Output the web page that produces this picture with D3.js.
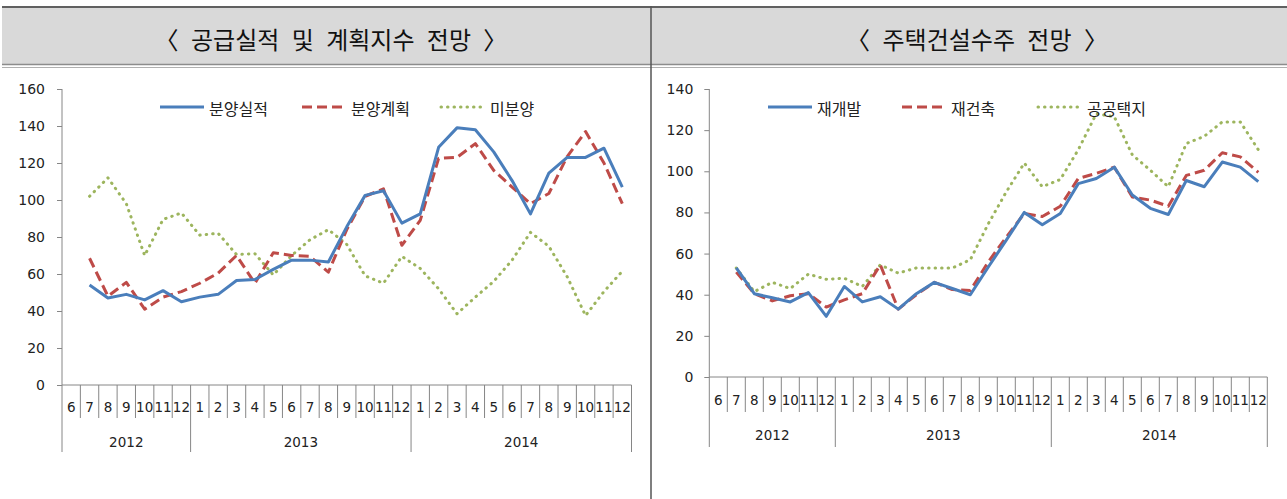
<!DOCTYPE html>
<html>
<head>
<meta charset="utf-8">
<script src="https://cdn.jsdelivr.net/npm/d3@7"></script>
<style>
  html, body { margin: 0; padding: 0; background: #ffffff; }
  svg { display: block; }
</style>
</head>
<body>
<svg id="chart" width="1287" height="499"></svg>
<script>
// ---------- DATA ----------
const monthLabels = ["6","7","8","9","10","11","12",
  "1","2","3","4","5","6","7","8","9","10","11","12",
  "1","2","3","4","5","6","7","8","9","10","11","12"];
const yearLabels = ["2012", "2013", "2014"];
const yearSpans = [7, 12, 12];

const leftTitle = "〈 공급실적 및 계획지수 전망 〉";
const rightTitle = "〈 주택건설수주 전망 〉";

const leftSeriesNames = ["분양실적", "분양계획", "미분양"];
const supplyActual = [null, 54, 47, 49, 46, 51, 45, 47.5, 49, 56.5, 57, 62.5, 67.5, 67.5, 66.5, 85.5, 102.5, 105, 87.5, 92.5, 128.5, 139, 138, 126, 110.5, 92.5, 114.5, 123, 123, 128, 107];
const supplyPlan   = [null, 68.5, 48, 55.5, 41, 47.5, 50.5, 55, 60.5, 70, 55, 71.5, 70, 69.5, 61, 84, 102, 106, 75.5, 89, 122.5, 123, 130.5, 116, 107, 98, 103.5, 123.5, 137, 120, 98];
const unsold       = [null, 102, 112, 98, 70, 89.5, 93, 81, 82, 70.5, 71, 59.5, 70, 78.5, 84, 76, 59, 55, 69.5, 63, 52, 38.5, 47.5, 56, 67.5, 82.5, 75, 58.5, 37.5, 50.5, 61.5];
const leftTicks = [0, 20, 40, 60, 80, 100, 120, 140, 160];

const rightSeriesNames = ["재개발", "재건축", "공공택지"];
const redevelopment  = [null, 53, 40.5, 38.5, 36.5, 41, 29.5, 44, 36.5, 39, 33, 40.5, 46, 43, 40, 53.5, 66.5, 80, 74, 79.5, 94, 96.5, 102, 88.5, 82, 79, 95.5, 92.5, 104.5, 102, 95];
const reconstruction = [null, 51, 40.5, 37, 39.5, 40.5, 34, 37.5, 40.5, 54.5, 33, 40, 46, 42.5, 42, 56, 68, 79.5, 78, 83, 96.5, 99, 102, 87.5, 86, 83, 98, 100.5, 109, 107, 99.5];
const publicLand     = [null, 53, 41.5, 46, 43, 50, 47.5, 48, 44, 54.5, 50.5, 53, 53, 53, 57, 74.5, 90, 104, 92.5, 96, 110.5, 128, 126.5, 108, 100.5, 92.5, 113.5, 117, 124, 124, 110.5];
const rightTicks = [0, 20, 40, 60, 80, 100, 120, 140];

// ---------- STYLES ----------
const KFONT = "'Noto Sans CJK KR', 'Noto Sans', sans-serif";
const NFONT = "'DejaVu Sans', sans-serif";
const NSIZE = "13.5px";
const YSIZE = "14px";
const AXIS = "#868686";
const styles = [
  { color: "#4a7ebb", dash: null, cap: "butt" },
  { color: "#be4b48", dash: "10,5", cap: "butt" },
  { color: "#9db55e", dash: "0.5,6", cap: "round" }
];

const svg = d3.select("#chart");

// ---------- HEADER ----------
svg.append("rect").attr("x", 2).attr("y", 8).attr("width", 1285).attr("height", 56).attr("fill", "#d9d9d9");
svg.append("line").attr("x1", 2).attr("x2", 1287).attr("y1", 7).attr("y2", 7).attr("stroke", "#606060").attr("stroke-width", 2);
svg.append("line").attr("x1", 2).attr("x2", 1287).attr("y1", 64.5).attr("y2", 64.5).attr("stroke", "#8c8c8c").attr("stroke-width", 1.5);
svg.append("line").attr("x1", 2).attr("x2", 1287).attr("y1", 67.5).attr("y2", 67.5).attr("stroke", "#b0b0b0").attr("stroke-width", 1);
svg.append("line").attr("x1", 651).attr("x2", 651).attr("y1", 6).attr("y2", 499).attr("stroke", "#555").attr("stroke-width", 1.5);

svg.append("text").attr("x", 331).attr("y", 38).attr("text-anchor", "middle").attr("dominant-baseline", "central")
  .style("font-family", KFONT).style("font-size", "24px").style("word-spacing", "7px").attr("fill", "#111").text(leftTitle);
svg.append("text").attr("x", 977).attr("y", 38).attr("text-anchor", "middle").attr("dominant-baseline", "central")
  .style("font-family", KFONT).style("font-size", "24px").style("word-spacing", "7px").attr("fill", "#111").text(rightTitle);

// ---------- CHART BUILDER ----------
function buildChart(cfg) {
  const g = svg.append("g");
  const x = d3.scaleBand().domain(d3.range(monthLabels.length)).range([cfg.x0, cfg.x1]).paddingInner(0).paddingOuter(0);
  const y = d3.scaleLinear().domain([0, cfg.yMax]).range([cfg.yBottom, cfg.yTop]);
  const bw = x.bandwidth();

  // y axis
  const yAxis = d3.axisLeft(y).tickValues(cfg.ticks).tickSize(5).tickPadding(cfg.tickPad).tickSizeOuter(0);
  const ya = g.append("g").attr("transform", `translate(${cfg.x0},0)`).call(yAxis);
  ya.select(".domain").remove();
  ya.selectAll(".tick line").attr("stroke", AXIS);
  ya.selectAll(".tick text").style("font-family", NFONT).style("font-size", YSIZE).attr("fill", "#222");
  g.append("line").attr("x1", cfg.x0).attr("x2", cfg.x0).attr("y1", cfg.yTop).attr("y2", cfg.yearLineEnd).attr("stroke", AXIS);

  // x axis baseline
  g.append("line").attr("x1", cfg.x0).attr("x2", cfg.x1).attr("y1", y(0)).attr("y2", y(0)).attr("stroke", AXIS);

  // month boundaries
  const boundaries = d3.range(1, monthLabels.length + 1);
  let cum = 0;
  const yearBounds = new Set(yearSpans.map(s => (cum += s)));
  g.selectAll(".mtick").data(boundaries).enter().append("line")
    .attr("x1", i => x(i - 1) + bw).attr("x2", i => x(i - 1) + bw)
    .attr("y1", y(0))
    .attr("y2", i => yearBounds.has(i) ? cfg.yearLineEnd : cfg.monthTickEnd)
    .attr("stroke", AXIS);

  g.selectAll(".mlab").data(monthLabels).enter().append("text")
    .attr("x", (d, i) => x(i) + bw / 2).attr("y", cfg.monthLabelY)
    .attr("text-anchor", "middle").attr("dominant-baseline", "central")
    .style("font-family", NFONT).style("font-size", NSIZE).attr("fill", "#222").text(d => d);

  let start = 0;
  yearLabels.forEach((lab, k) => {
    const a = x(start), b = x(start + yearSpans[k] - 1) + bw;
    g.append("text").attr("x", (a + b) / 2).attr("y", cfg.yearLabelY)
      .attr("text-anchor", "middle").attr("dominant-baseline", "central")
      .style("font-family", NFONT).style("font-size", NSIZE).attr("fill", "#222").text(lab);
    start += yearSpans[k];
  });

  // lines (dotted first, then dashed, then solid on top)
  const line = d3.line().defined(d => d != null).x((d, i) => x(i) + bw / 2).y(d => y(d));
  [2, 1, 0].forEach(k => {
    const st = styles[k];
    g.append("path").datum(cfg.series[k]).attr("d", line)
      .attr("fill", "none").attr("stroke", st.color).attr("stroke-width", 3)
      .attr("stroke-linejoin", "round").attr("stroke-linecap", st.cap)
      .attr("stroke-dasharray", st.dash);
  });

  // legend
  cfg.legend.forEach((L, k) => {
    const st = styles[k];
    g.append("line").attr("x1", L.x).attr("x2", L.x + 44).attr("y1", cfg.legendY).attr("y2", cfg.legendY)
      .attr("stroke", st.color).attr("stroke-width", 3).attr("stroke-linecap", st.cap)
      .attr("stroke-dasharray", st.dash);
    g.append("text").attr("x", L.x + 49).attr("y", cfg.legendY + 1).attr("dominant-baseline", "central")
      .style("font-family", KFONT).style("font-size", "16px").attr("fill", "#222").text(cfg.names[k]);
  });
}

buildChart({
  x0: 62, x1: 631.5, yTop: 89, yBottom: 385, yMax: 160, ticks: leftTicks, tickPad: 12,
  monthTickEnd: 418, yearLineEnd: 452, monthLabelY: 407, yearLabelY: 442,
  series: [supplyActual, supplyPlan, unsold], names: leftSeriesNames,
  legendY: 107, legend: [{ x: 160 }, { x: 302 }, { x: 441 }]
});

buildChart({
  x0: 709.3, x1: 1267.3, yTop: 89, yBottom: 377, yMax: 140, ticks: rightTicks, tickPad: 11,
  monthTickEnd: 412, yearLineEnd: 447, monthLabelY: 400, yearLabelY: 435,
  series: [redevelopment, reconstruction, publicLand], names: rightSeriesNames,
  legendY: 107, legend: [{ x: 768 }, { x: 902 }, { x: 1038 }]
});
</script>
</body>
</html>
